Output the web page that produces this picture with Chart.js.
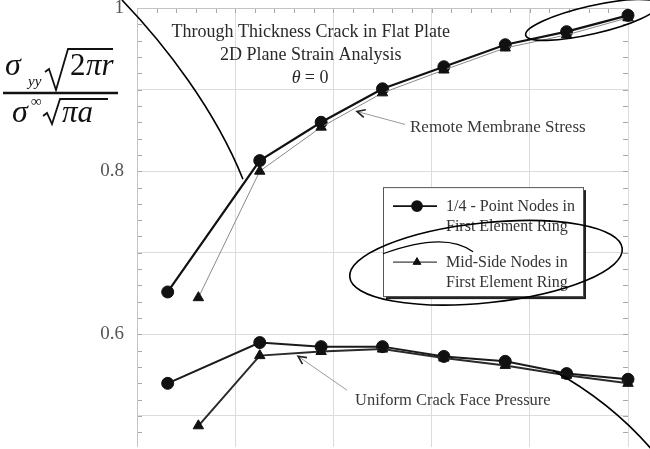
<!DOCTYPE html>
<html>
<head>
<meta charset="utf-8">
<script src="https://cdn.jsdelivr.net/npm/chart.js@4.4.1/dist/chart.umd.min.js"></script>
<style>
  html, body { margin: 0; padding: 0; background: #fff; overflow: hidden; }
  #wrap { width: 650px; height: 449px; overflow: hidden; }
</style>
</head>
<body>
<!-- canvas is 5px taller than the page: Chart.js keeps a 5px strip under the plot area -->
<div id="wrap"><canvas id="sifChart" width="650" height="454"></canvas></div>
<script>
/* sif.js — normalised stress ratio, 1/4-point vs mid-side nodes */

const SERIF = '"Liberation Serif", "Times New Roman", serif';
const GRID_COLOR = '#dcdcdc';
const TICK_COLOR = '#a8a8a8';

/* ── data ───────────────────────────────────────────────────────── */
const xQuarter = [0.3125, 1.25, 1.875, 2.5, 3.125, 3.75, 4.375, 5];
const xMid     = [0.625, 1.25, 1.875, 2.5, 3.125, 3.75, 4.375, 5];

const remoteQuarter = [0.652, 0.813, 0.860, 0.901, 0.928, 0.955, 0.971, 0.991];
const remoteMid     = [0.645, 0.800, 0.854, 0.896, 0.924, 0.951, 0.967, 0.988];
const crackQuarter  = [0.540, 0.590, 0.585, 0.585, 0.573, 0.567, 0.552, 0.545];
const crackMid      = [0.488, 0.574, 0.579, 0.582, 0.571, 0.562, 0.550, 0.540];

const yTickLabels = [1, 0.8, 0.6];
const titleLines = ['Through Thickness Crack in Flat Plate', '2D Plane Strain Analysis'];
const remoteLabel = 'Remote Membrane Stress';
const crackLabel = 'Uniform Crack Face Pressure';
const legendLabels = [
  ['1/4 - Point Nodes in', 'First Element Ring'],
  ['Mid-Side Nodes in', 'First Element Ring']
];

const pts = (xs, ys) => xs.map((x, i) => ({ x, y: ys[i] }));
const near = (a, b) => Math.abs(a - b) < 1e-6;

/* ── frame, inner minor ticks ───────────────────────────────────── */
const frameTicks = {
  id: 'frameTicks',
  beforeDatasetsDraw(chart) {
    const { ctx, chartArea: a, scales } = chart;
    ctx.save();
    ctx.strokeStyle = TICK_COLOR;
    ctx.lineWidth = 1;
    ctx.beginPath();
    scales.y.ticks.forEach(t => {
      const y = Math.round(scales.y.getPixelForValue(t.value)) + 0.5;
      ctx.moveTo(a.left, y); ctx.lineTo(a.left + 5, y);
      ctx.moveTo(a.right, y); ctx.lineTo(a.right - 5, y);
    });
    scales.x.ticks.forEach(t => {
      const x = Math.round(scales.x.getPixelForValue(t.value)) + 0.5;
      ctx.moveTo(x, a.top); ctx.lineTo(x, a.top + 5);
    });
    ctx.stroke();
    ctx.strokeStyle = '#c4c4c4';
    ctx.beginPath();
    ctx.moveTo(a.left + 0.5, a.bottom); ctx.lineTo(a.left + 0.5, a.top + 0.5); ctx.lineTo(a.right + 0.5, a.top + 0.5);
    ctx.stroke();
    ctx.restore();
  }
};

/* ── y-axis formula, labels, legend, pen marks ──────────────────── */
function arrow(ctx, from, to) {
  ctx.strokeStyle = '#9a9a9a';
  ctx.lineWidth = 1;
  ctx.beginPath(); ctx.moveTo(from[0], from[1]); ctx.lineTo(to[0], to[1]); ctx.stroke();
  const ang = Math.atan2(from[1] - to[1], from[0] - to[0]);
  ctx.strokeStyle = '#222';
  ctx.lineWidth = 1.6;
  ctx.beginPath();
  ctx.moveTo(to[0] + 9 * Math.cos(ang - 0.45), to[1] + 9 * Math.sin(ang - 0.45));
  ctx.lineTo(to[0], to[1]);
  ctx.lineTo(to[0] + 9 * Math.cos(ang + 0.45), to[1] + 9 * Math.sin(ang + 0.45));
  ctx.stroke();
}

function drawFormula(ctx) {
  ctx.fillStyle = '#111';
  ctx.strokeStyle = '#111';
  ctx.textAlign = 'left';
  ctx.textBaseline = 'alphabetic';
  // numerator
  ctx.font = 'italic 32px ' + SERIF; ctx.fillText('σ', 5, 75);
  ctx.font = 'italic 15px ' + SERIF; ctx.fillText('yy', 28, 86);
  ctx.lineWidth = 1.8;
  ctx.beginPath();
  ctx.moveTo(45, 72); ctx.lineTo(49, 69); ctx.lineTo(56, 90); ctx.lineTo(68, 49); ctx.lineTo(113, 49);
  ctx.stroke();
  ctx.font = '31px ' + SERIF; ctx.fillText('2', 70, 75);
  ctx.font = 'italic 31px ' + SERIF; ctx.fillText('πr', 86, 75);
  // bar
  ctx.lineWidth = 2.6;
  ctx.beginPath(); ctx.moveTo(3, 93); ctx.lineTo(118, 93); ctx.stroke();
  // denominator
  ctx.font = 'italic 32px ' + SERIF; ctx.fillText('σ', 12, 122);
  ctx.font = '15px ' + SERIF; ctx.fillText('∞', 31, 106);
  ctx.lineWidth = 1.8;
  ctx.beginPath();
  ctx.moveTo(43, 116); ctx.lineTo(47, 113); ctx.lineTo(52, 124); ctx.lineTo(60, 99); ctx.lineTo(108, 99);
  ctx.stroke();
  ctx.font = 'italic 31px ' + SERIF; ctx.fillText('πa', 62, 122);
}

const notes = {
  id: 'notes',
  afterDraw(chart) {
    const { ctx, scales } = chart;
    const at = (x, y) => [scales.x.getPixelForValue(x), scales.y.getPixelForValue(y)];
    ctx.save();
    drawFormula(ctx);

    // title block
    const t = at(1.77, 0.965);
    ctx.fillStyle = '#2a2a2a';
    ctx.textAlign = 'center';
    ctx.font = '18px ' + SERIF;
    titleLines.forEach((s, i) => ctx.fillText(s, t[0], t[1] + i * 23));
    ctx.textAlign = 'left';
    ctx.font = 'italic 18px ' + SERIF; ctx.fillText('θ', t[0] - 19, t[1] + 46);
    ctx.font = '18px ' + SERIF; ctx.fillText('= 0', t[0] - 6, t[1] + 46);

    // curve labels
    ctx.fillStyle = '#3a3a3a';
    ctx.font = '17px ' + SERIF;
    const r = at(2.78, 0.8476); ctx.fillText(remoteLabel, r[0], r[1]);
    arrow(ctx, at(2.73, 0.8573), at(2.24, 0.8732));
    ctx.font = '16.5px ' + SERIF;
    const c = at(2.22, 0.5134); ctx.fillText(crackLabel, c[0], c[1]);
    arrow(ctx, at(2.138, 0.5317), at(1.64, 0.5732));

    // legend box
    const [bx, by] = at(2.505, 0.7805);
    const bw = 200, bh = 109;
    ctx.fillStyle = '#222';
    ctx.fillRect(bx + 3, by + 3, bw, bh);
    ctx.fillStyle = '#fff';
    ctx.fillRect(bx, by, bw, bh);
    ctx.strokeStyle = '#555'; ctx.lineWidth = 1;
    ctx.strokeRect(bx + 0.5, by + 0.5, bw, bh);
    const sets = [chart.data.datasets[1], chart.data.datasets[0]];
    const rows = [19, 75];
    sets.forEach((ds, i) => {
      const ly = by + rows[i];
      ctx.strokeStyle = '#111'; ctx.lineWidth = i === 0 ? 1.8 : 1;
      ctx.beginPath(); ctx.moveTo(bx + 10, ly); ctx.lineTo(bx + 54, ly); ctx.stroke();
      ctx.fillStyle = '#111';
      Chart.helpers.drawPoint(ctx, { pointStyle: ds.pointStyle, radius: i === 0 ? 5 : 4.5, borderWidth: 1, rotation: 0 }, bx + 34, ly);
      ctx.fillStyle = '#333';
      ctx.font = '16px ' + SERIF;
      ctx.fillText(legendLabels[i][0], bx + 63, ly + 5);
      ctx.fillText(legendLabels[i][1], bx + 63, ly + 25);
    });

    // pen marks over the figure
    ctx.strokeStyle = '#000';
    ctx.lineWidth = 1.6;
    const p0 = at(-0.153, 1.0098), p1 = at(0.285, 0.9549), p2 = at(0.794, 0.8756), p3 = at(1.079, 0.7902);
    ctx.beginPath(); ctx.moveTo(...p0); ctx.bezierCurveTo(...p1, ...p2, ...p3); ctx.stroke();
    const e1 = at(4.633, 0.9854);
    ctx.beginPath(); ctx.ellipse(e1[0], e1[1], 68, 14, -13 * Math.PI / 180, 0, Math.PI * 2); ctx.stroke();
    const e2 = at(3.554, 0.6878);
    ctx.beginPath(); ctx.ellipse(e2[0], e2[1], 137, 40, -6 * Math.PI / 180, 0, Math.PI * 2); ctx.stroke();
    ctx.lineWidth = 1.2;
    const s0 = at(2.505, 0.6988), s1 = at(3.136, 0.7268), s2 = at(3.422, 0.7012);
    ctx.beginPath(); ctx.moveTo(...s0); ctx.quadraticCurveTo(...s1, ...s2); ctx.stroke();
    ctx.lineWidth = 1.6;
    const q0 = at(4.236, 0.5561), q1 = at(4.837, 0.5159), q2 = at(5.244, 0.4585);
    ctx.beginPath(); ctx.moveTo(...q0); ctx.quadraticCurveTo(...q1, ...q2); ctx.stroke();
    ctx.restore();
  }
};

/* ── chart ──────────────────────────────────────────────────────── */
const lineSet = (data, color, width, style) => ({
  data,
  showLine: true,
  borderColor: color,
  borderWidth: width,
  pointStyle: style,
  pointRadius: 6,
  pointBackgroundColor: '#111',
  pointBorderColor: '#111',
  pointBorderWidth: 1,
  clip: false
});

new Chart(document.getElementById('sifChart'), {
  type: 'scatter',
  data: {
    datasets: [
      lineSet(pts(xMid, remoteMid), '#8a8a8a', 1, 'triangle'),
      lineSet(pts(xQuarter, remoteQuarter), '#111', 2.2, 'circle'),
      lineSet(pts(xMid, crackMid), '#2a2a2a', 2, 'triangle'),
      lineSet(pts(xQuarter, crackQuarter), '#1a1a1a', 2, 'circle')
    ]
  },
  options: {
    responsive: false,
    animation: false,
    layout: { padding: { top: 8, right: 22, left: 0, bottom: 0 } },
    plugins: { legend: { display: false }, tooltip: { enabled: false } },
    scales: {
      x: {
        type: 'linear', min: 0, max: 5,
        border: { display: false },
        grid: {
          drawTicks: false,
          color: ctx => near(ctx.tick.value, Math.round(ctx.tick.value)) ? GRID_COLOR : 'transparent'
        },
        ticks: { display: false, stepSize: 0.2, autoSkip: false },
        afterFit: s => { s.height = 0; s.paddingLeft = 0; s.paddingRight = 0; }
      },
      y: {
        min: 0.462, max: 1,
        border: { display: false },
        grid: {
          drawTicks: false,
          color: ctx => near(ctx.tick.value * 10, Math.round(ctx.tick.value * 10)) ? GRID_COLOR : 'transparent'
        },
        ticks: {
          stepSize: 0.02,
          autoSkip: false,
          includeBounds: false,
          padding: 13,
          color: '#555',
          font: { family: SERIF, size: 19 },
          callback: v => yTickLabels.some(t => near(t, v)) ? String(Math.round(v * 10) / 10) : ''
        },
        afterFit: s => { s.width = 137; s.paddingTop = 0; s.paddingBottom = 0; }
      }
    }
  },
  plugins: [frameTicks, notes]
});
</script>
</body>
</html>
